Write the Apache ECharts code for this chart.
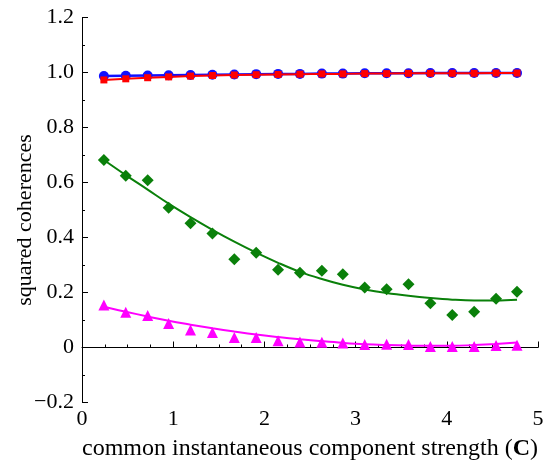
<!DOCTYPE html>
<html>
<head>
<meta charset="utf-8">
<script src="https://cdn.jsdelivr.net/npm/echarts@6/dist/echarts.min.js"></script>
<style>
  html, body { margin: 0; padding: 0; background: #fff; }
  #chart { width: 544px; height: 463px; }
</style>
</head>
<body>
<div id="chart"></div>
<script>
// x positions of the measurements (component strength C)
var strength = [0.24, 0.48, 0.72, 0.95, 1.19, 1.43, 1.67, 1.91, 2.15, 2.39,
                2.63, 2.86, 3.10, 3.34, 3.58, 3.82, 4.06, 4.30, 4.54, 4.77];

// blue circles and red squares near 1
var bluePts = [0.987, 0.988, 0.989, 0.990, 0.991, 0.992, 0.993, 0.994, 0.995, 0.995,
               0.996, 0.996, 0.997, 0.997, 0.997, 0.998, 0.998, 0.998, 0.998, 0.998];
var redPts  = [0.973, 0.977, 0.981, 0.984, 0.987, 0.989, 0.991, 0.992, 0.993, 0.994,
               0.995, 0.995, 0.996, 0.996, 0.997, 0.997, 0.997, 0.997, 0.998, 0.998];

// green diamonds and the fitted curve through them
var greenPts = [0.682, 0.625, 0.608, 0.508, 0.452, 0.415, 0.321, 0.345, 0.283, 0.272,
                0.279, 0.266, 0.218, 0.212, 0.230, 0.161, 0.118, 0.130, 0.177, 0.203];
var greenFit = [0.682, 0.627, 0.574, 0.523, 0.474, 0.428, 0.385, 0.345, 0.308, 0.275,
                0.249, 0.228, 0.211, 0.198, 0.188, 0.180, 0.174, 0.171, 0.171, 0.174];

// magenta triangles and their fitted curve
var magentaPts = [0.155, 0.128, 0.116, 0.087, 0.064, 0.055, 0.036, 0.036, 0.025, 0.020,
                  0.019, 0.016, 0.011, 0.012, 0.011, 0.004, 0.004, 0.004, 0.007, 0.008];
var magentaFit = [0.148, 0.130, 0.113, 0.097, 0.083, 0.070, 0.058, 0.047, 0.038, 0.030,
                  0.023, 0.017, 0.012, 0.009, 0.007, 0.006, 0.006, 0.009, 0.013, 0.018];

var yTicks = { min: -0.2, max: 1.2, interval: 0.2 };
var xTicks = { min: 0, max: 5, interval: 1 };

function pairs(ys) {
  return strength.map(function (x, i) { return [x, ys[i]]; });
}

function fmtY(v) {
  if (Math.abs(v) < 1e-9) return '0';
  if (v < 0) return '\u2212' + Math.abs(v).toFixed(1);
  return v.toFixed(1);
}

var serif = 'Liberation Serif';
var chart = echarts.init(document.getElementById('chart'));

chart.setOption({
  animation: false,
  backgroundColor: '#fff',
  grid: { left: 82, right: 6, top: 17.5, bottom: 60.5, outerBoundsMode: 'none', containLabel: false },
  xAxis: {
    type: 'value',
    min: xTicks.min, max: xTicks.max, interval: xTicks.interval,
    name: 'common instantaneous component strength ({b|C})',
    nameLocation: 'middle',
    nameGap: 34,
    nameMoveOverlap: false,
    nameTextStyle: {
      fontFamily: serif, fontSize: 24, color: '#000',
      rich: { b: { fontFamily: serif, fontSize: 24, fontWeight: 'bold', color: '#000' } }
    },
    axisLine: { lineStyle: { color: '#000', width: 1 } },
    axisTick: { inside: true, length: 6, lineStyle: { color: '#000' } },
    minorTick: { show: true, splitNumber: 4, length: 3, lineStyle: { color: '#000' } },
    axisLabel: { fontFamily: serif, fontSize: 22, color: '#000', margin: 6 },
    splitLine: { show: false }
  },
  yAxis: {
    type: 'value',
    min: yTicks.min, max: yTicks.max, interval: yTicks.interval,
    name: 'squared coherences',
    nameLocation: 'middle',
    nameGap: 46,
    nameMoveOverlap: false,
    nameTextStyle: { fontFamily: serif, fontSize: 22, color: '#000', padding: [0, 20, 0, 0] },
    axisLine: { lineStyle: { color: '#000', width: 1 } },
    axisTick: { inside: true, length: 6, lineStyle: { color: '#000' } },
    minorTick: { show: true, splitNumber: 2, length: 3, lineStyle: { color: '#000' } },
    axisLabel: { fontFamily: serif, fontSize: 22, color: '#000', margin: 8, formatter: fmtY },
    splitLine: { show: false }
  },
  series: [
    {
      type: 'line', data: pairs(greenFit), smooth: 0.4, showSymbol: false,
      lineStyle: { color: '#0a800a', width: 2 }, z: 2
    },
    {
      type: 'scatter', data: pairs(greenPts), symbol: 'diamond', symbolSize: 12,
      itemStyle: { color: '#0a800a', opacity: 1 }, z: 3
    },
    {
      type: 'line', data: pairs(magentaFit), smooth: 0.4, showSymbol: false,
      lineStyle: { color: '#ff00ff', width: 2 }, z: 2
    },
    {
      type: 'scatter', data: pairs(magentaPts), symbol: 'triangle', symbolSize: 11,
      itemStyle: { color: '#ff00ff', opacity: 1 }, z: 3
    },
    {
      type: 'line', data: pairs(bluePts), symbol: 'circle', symbolSize: 10,
      lineStyle: { color: '#1010ff', width: 2.5 }, itemStyle: { color: '#1010ff' }, z: 4
    },
    {
      type: 'line', data: pairs(redPts), symbol: 'rect', symbolSize: 7,
      lineStyle: { color: '#ff0000', width: 2 }, itemStyle: { color: '#ff0000' }, z: 5
    }
  ]
});
</script>
</body>
</html>
